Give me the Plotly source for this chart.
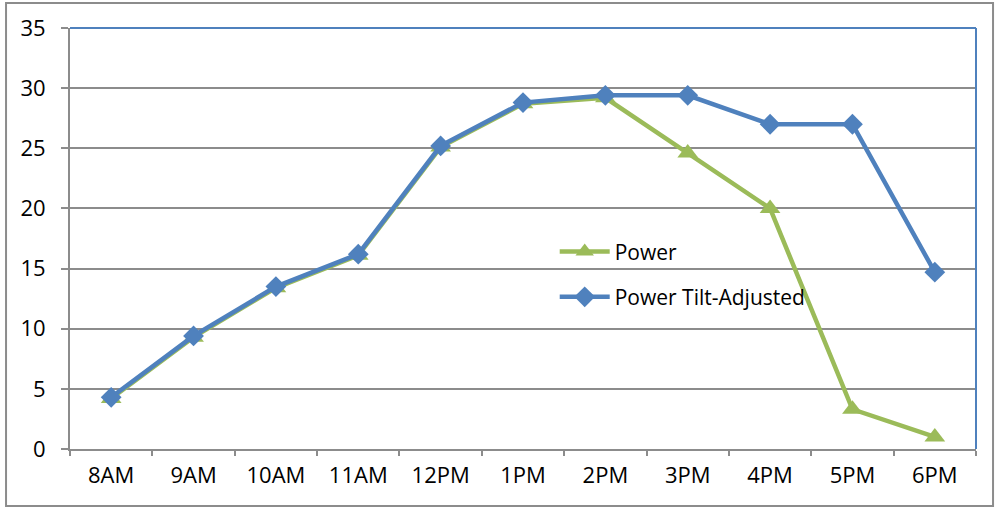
import plotly.graph_objects as go

hours = ["8AM", "9AM", "10AM", "11AM", "12PM", "1PM", "2PM", "3PM", "4PM", "5PM", "6PM"]
power = [4.2, 9.3, 13.4, 16.1, 25.1, 28.7, 29.2, 24.6, 20.0, 3.3, 1.0]
power_tilt = [4.3, 9.4, 13.5, 16.2, 25.2, 28.8, 29.4, 29.4, 27.0, 27.0, 14.7]
y_ticks = [0, 5, 10, 15, 20, 25, 30, 35]

GREEN = "#9BBB59"
BLUE = "#4F81BD"
GRID = "#8C8C8C"
FONT = "Open Sans"

fig = go.Figure()
fig.add_trace(go.Scatter(
    x=hours, y=power, name="Power", mode="lines+markers",
    line=dict(color=GREEN, width=4.5),
    marker=dict(symbol="triangle-up", size=18, color=GREEN),
    legendgroup="a",
))
fig.add_trace(go.Scatter(
    x=hours, y=power_tilt, name="Power Tilt-Adjusted", mode="lines+markers",
    line=dict(color=BLUE, width=4.5),
    marker=dict(symbol="diamond", size=16, color=BLUE),
    legendgroup="b",
))

# outer chart frame
fig.add_shape(type="rect", xref="paper", yref="paper",
              x0=-0.0706, x1=1.0188, y0=-0.1354, y1=1.0594,
              line=dict(color="#8C8C8C", width=2), layer="below")
# top and right plot-area border
fig.add_shape(type="line", xref="paper", yref="paper", x0=0, x1=1, y0=1, y1=1,
              line=dict(color=BLUE, width=2))
fig.add_shape(type="line", xref="paper", yref="paper", x0=1, x1=1, y0=0, y1=1,
              line=dict(color=BLUE, width=2))

fig.update_layout(
    width=995, height=508,
    margin=dict(l=70, r=19, t=28, b=59),
    paper_bgcolor="white", plot_bgcolor="white",
    font=dict(family=FONT, size=21, color="black"),
    showlegend=True,
    legend=dict(x=0.535, y=0.517, xanchor="left", yanchor="top",
                bgcolor="rgba(0,0,0,0)", font=dict(size=21),
                itemwidth=50, tracegroupgap=15, traceorder="grouped"),
    xaxis=dict(
        type="category", range=[-0.5, 10.5],
        showline=True, linecolor=GRID, linewidth=2,
        ticks="outside", ticklen=5, tickcolor=GRID, tickwidth=2,
        tickson="boundaries", showgrid=False,
        tickfont=dict(size=22), ticklabelstandoff=6, fixedrange=True,
    ),
    yaxis=dict(
        range=[0, 35], tickvals=y_ticks,
        showline=True, linecolor=GRID, linewidth=2,
        ticks="outside", ticklen=7, tickcolor=GRID, tickwidth=2,
        showgrid=True, gridcolor=GRID, gridwidth=2,
        zeroline=False, tickfont=dict(size=22), ticklabelstandoff=11,
    ),
)

fig.write_html("out.html")
